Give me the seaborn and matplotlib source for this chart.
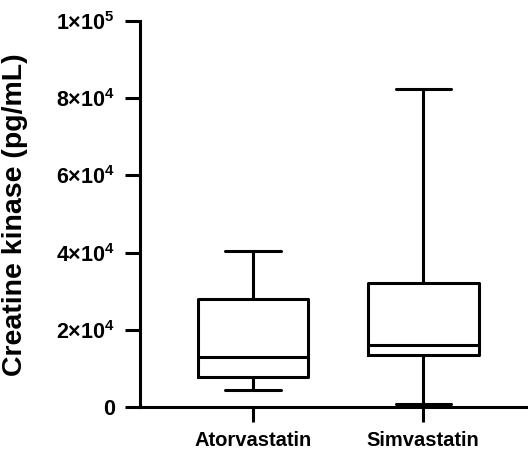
import matplotlib
matplotlib.use("Agg")
import matplotlib.pyplot as plt
import seaborn as sns

groups = ["Atorvastatin", "Simvastatin"]
# min, Q1, median, Q3, max
mins = [4400, 800]
q1s = [7800, 13500]
medians = [13000, 16100]
q3s = [28000, 32100]
maxs = [40400, 82400]
yticks = [0, 20000, 40000, 60000, 80000, 100000]
ytick_labels = ["0", r"$\mathbf{2{\times}10^4}$", r"$\mathbf{4{\times}10^4}$",
                r"$\mathbf{6{\times}10^4}$", r"$\mathbf{8{\times}10^4}$",
                r"$\mathbf{1{\times}10^5}$"]

sns.set_style("ticks", {"axes.edgecolor": "black", "text.color": "black",
                        "axes.labelcolor": "black", "xtick.color": "black",
                        "ytick.color": "black"})
plt.rcParams["font.family"] = ["Liberation Sans", "DejaVu Sans"]
plt.rcParams["mathtext.fontset"] = "custom"
plt.rcParams["mathtext.bf"] = "Liberation Sans:bold"
plt.rcParams["mathtext.rm"] = "Liberation Sans"

fig = plt.figure(figsize=(5.28, 4.49), dpi=100)
ax = fig.add_axes([140 / 528, 1 - 407 / 449, (527 - 140) / 528, (407 - 21) / 449])

stats = []
for i, g in enumerate(groups):
    stats.append(dict(label=g, whislo=mins[i], q1=q1s[i], med=medians[i],
                      q3=q3s[i], whishi=maxs[i], fliers=[]))

lw = 2.2
ax.bxp(stats, positions=range(len(groups)), widths=0.65, showfliers=False,
       boxprops=dict(color="black", linewidth=lw),
       whiskerprops=dict(color="black", linewidth=lw),
       capprops=dict(color="black", linewidth=lw),
       medianprops=dict(color="black", linewidth=lw),
       capwidths=0.325)

ax.set_xlim(-0.665, 1.61)
ax.set_ylim(0, 100000)
ax.set_yticks(yticks)
ax.set_yticklabels(ytick_labels)
ax.set_xticks(range(len(groups)))
ax.set_xticklabels(groups, fontweight="bold", fontsize=14.5)
ax.tick_params(axis="y", labelsize=15.5, width=lw, length=11, pad=7)
ax.tick_params(axis="x", width=lw, length=11, pad=6)
for lab in ax.get_yticklabels():
    lab.set_fontweight("bold")
ax.set_ylabel("Creatine kinase (pg/mL)", fontsize=20.5, fontweight="bold")
ax.yaxis.set_label_coords(-0.289, 0.497)
sns.despine(ax=ax)
ax.spines["left"].set_linewidth(lw)
ax.spines["bottom"].set_linewidth(lw)

fig.savefig("out.png", dpi=100)
